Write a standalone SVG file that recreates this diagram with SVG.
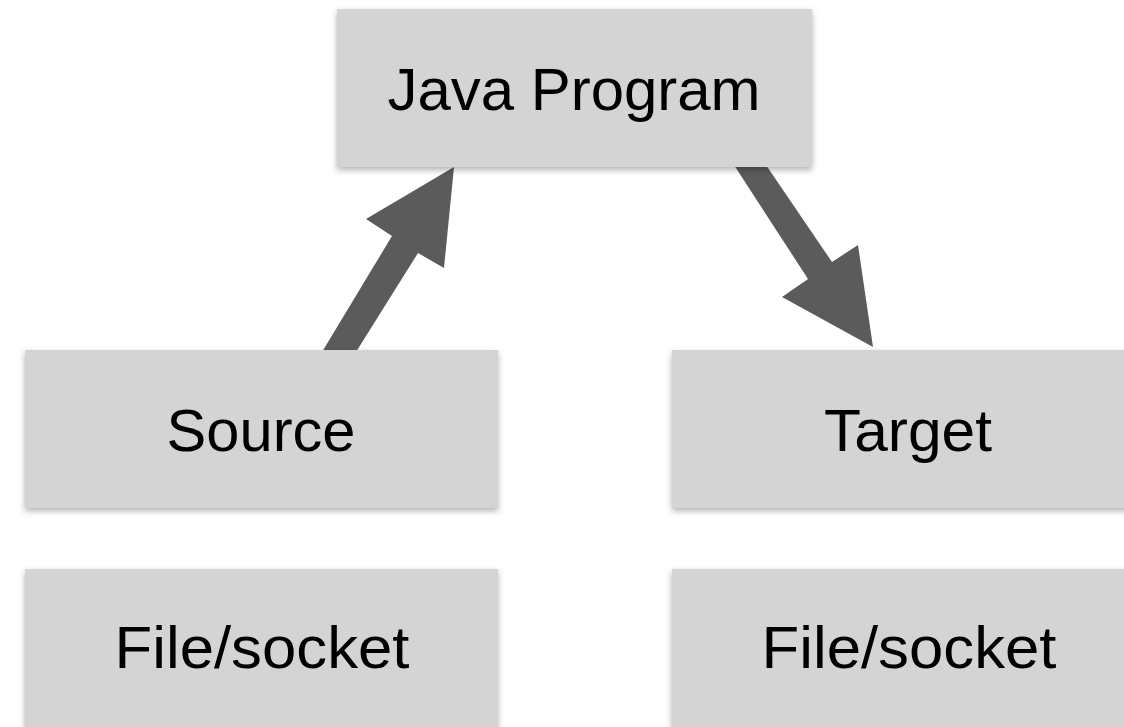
<svg xmlns="http://www.w3.org/2000/svg" width="1124" height="727" viewBox="0 0 1124 727">
  <defs>
    <filter id="shadow" x="-10%" y="-10%" width="120%" height="130%">
      <feDropShadow dx="0" dy="3" stdDeviation="3" flood-color="#000" flood-opacity="0.3"/>
    </filter>
  </defs>
  <style>
    .box { fill: #d4d4d4; filter: url(#shadow); }
    .label { font-family: "Liberation Sans", Arial, sans-serif; font-size: 59px; fill: #000; text-anchor: middle; }
    .arrow { fill: #5b5b5b; }
  </style>
  <rect width="1124" height="727" fill="#ffffff"/>
  <g id="connectors">
    <polygon class="arrow" points="322,352 392,236 366,219 454,167 444,268 418,253 356,352"/>
    <polygon class="arrow" points="734,165 808,279 782,297 873,347 858,245 832,262 766,165"/>
  </g>
  <g id="java-program">
    <rect class="box" x="337" y="9" width="475" height="158"/>
    <text class="label" x="574" y="110" textLength="373" lengthAdjust="spacingAndGlyphs">Java Program</text>
  </g>
  <g id="source">
    <rect class="box" x="25" y="350" width="473" height="158"/>
    <text class="label" x="261" y="451" textLength="189" lengthAdjust="spacingAndGlyphs">Source</text>
  </g>
  <g id="target">
    <rect class="box" x="672" y="350" width="473" height="158"/>
    <text class="label" x="908" y="451" textLength="168" lengthAdjust="spacingAndGlyphs">Target</text>
  </g>
  <g id="source-file">
    <rect class="box" x="25" y="569" width="473" height="170"/>
    <text class="label" x="262" y="668" textLength="295" lengthAdjust="spacingAndGlyphs">File/socket</text>
  </g>
  <g id="target-file">
    <rect class="box" x="672" y="569" width="473" height="170"/>
    <text class="label" x="909" y="668" textLength="295" lengthAdjust="spacingAndGlyphs">File/socket</text>
  </g>
</svg>
